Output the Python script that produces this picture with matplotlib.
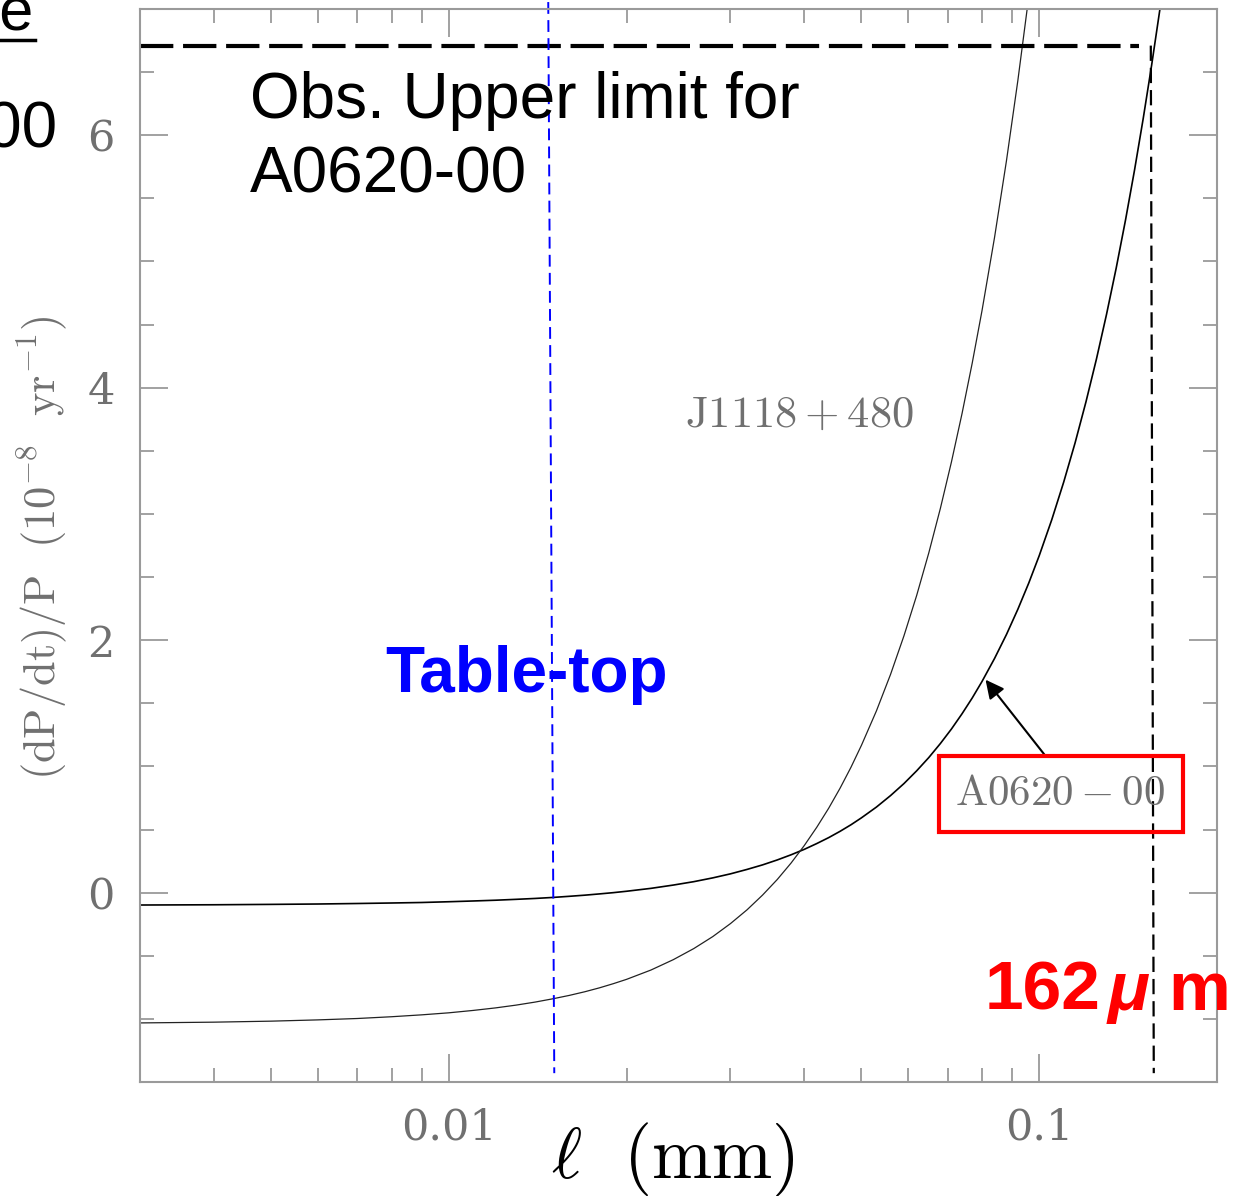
import numpy as np
import matplotlib
matplotlib.use('Agg')
import matplotlib.pyplot as plt
from matplotlib.ticker import MultipleLocator, FixedLocator, FixedFormatter, LogLocator, NullFormatter
from matplotlib.patches import Rectangle
from matplotlib.lines import Line2D

plt.rcParams['mathtext.fontset'] = 'cm'
plt.rcParams['lines.scale_dashes'] = False

# === DATA ===
ell_a = [0.003, 0.004, 0.005, 0.006, 0.007, 0.008, 0.009, 0.010, 0.011, 0.012,
         0.013, 0.014, 0.015, 0.016, 0.017, 0.018, 0.019, 0.020, 0.022, 0.024,
         0.026, 0.028, 0.030, 0.032, 0.034, 0.036, 0.038, 0.040, 0.042, 0.044,
         0.046, 0.048, 0.050, 0.053, 0.056, 0.059, 0.062, 0.065, 0.068, 0.071,
         0.074, 0.077, 0.080, 0.084, 0.088, 0.092, 0.096, 0.100, 0.105, 0.110,
         0.115, 0.120, 0.125, 0.130, 0.135, 0.140, 0.145, 0.150, 0.155, 0.160,
         0.165, 0.170]
a0620 = [-0.098, -0.096, -0.093, -0.090, -0.086, -0.082, -0.078, -0.072, -0.066, -0.060,
         -0.053, -0.046, -0.038, -0.029, -0.020, -0.010, 0.000, 0.011, 0.034, 0.060,
         0.087, 0.117, 0.149, 0.184, 0.220, 0.259, 0.300, 0.343, 0.389, 0.436,
         0.486, 0.538, 0.593, 0.678, 0.769, 0.864, 0.965, 1.070, 1.181, 1.296,
         1.417, 1.542, 1.673, 1.855, 2.045, 2.245, 2.453, 2.670, 2.954, 3.252,
         3.563, 3.889, 4.228, 4.581, 4.948, 5.329, 5.724, 6.133, 6.555, 6.991,
         7.441, 7.905]

ell_j = ell_a[:48]
j1118 = [-1.032, -1.026, -1.018, -1.008, -0.997, -0.983, -0.968, -0.952, -0.933, -0.913,
         -0.891, -0.867, -0.841, -0.814, -0.785, -0.754, -0.721, -0.687, -0.613, -0.531,
         -0.443, -0.348, -0.245, -0.136, -0.019, 0.104, 0.235, 0.373, 0.518, 0.669,
         0.828, 0.994, 1.168, 1.440, 1.729, 2.034, 2.354, 2.691, 3.043, 3.411,
         3.795, 4.195, 4.611, 5.190, 5.798, 6.434, 7.098, 7.790]

upper_limit = 6.71              # observed upper limit for A0620-00
tabletop_l = [0.01474, 0.01509] # table-top reach (top, bottom of the drawn line)
limit_l = [0.1545, 0.1563]      # 162 micron line (top, bottom)
xtick_vals = [0.01, 0.1]
xtick_text = ['0.01', '0.1']
ytick_vals = [0, 2, 4, 6]

W, H = 1240, 1196
fig = plt.figure(figsize=(W / 100, H / 100), dpi=100)
ax = fig.add_axes([140 / W, 1 - 1082 / H, 1077 / W, 1073 / H])

frame_grey = '#9a9a9a'
text_grey = '#707070'

ax.plot(ell_a, a0620, color='black', lw=1.2)
ax.plot(ell_j, j1118, color='#222222', lw=0.9)

ax.set_xscale('log')
ax.set_xlim(0.003, 0.2)
ax.set_ylim(-1.5, 7.0)

# reference lines
ax.plot([0.003, 0.1474], [upper_limit, upper_limit], color='black', lw=3.0,
        dashes=(24, 7), clip_on=False)
ax.plot(limit_l, [upper_limit, -1.43], color='black', lw=1.6,
        dashes=(11, 5), clip_on=False)
ax.plot(tabletop_l, [7.055, -1.43], color='blue', lw=1.4,
        dashes=(8.5, 4.5), clip_on=False)

# ticks
ax.xaxis.set_major_locator(FixedLocator(xtick_vals))
ax.xaxis.set_major_formatter(FixedFormatter(xtick_text))
ax.xaxis.set_minor_locator(LogLocator(base=10, subs=np.arange(2, 10)))
ax.xaxis.set_minor_formatter(NullFormatter())
ax.yaxis.set_major_locator(FixedLocator(ytick_vals))
ax.yaxis.set_minor_locator(MultipleLocator(0.5))

ax.tick_params(which='both', direction='in', top=True, right=True,
               color=frame_grey, width=1.3)
ax.tick_params(which='major', length=20, pad=18, labelsize=31,
               labelcolor=text_grey)
ax.tick_params(which='minor', length=10)
for lab in ax.get_xticklabels() + ax.get_yticklabels():
    lab.set_fontfamily('DejaVu Serif')
    lab.set_fontweight('light')
for s in ax.spines.values():
    s.set_color(frame_grey)
    s.set_linewidth(1.5)

# axis labels
fig.text(673 / W, 1 - 1178 / H, r'$\ell\ \ (\mathrm{mm})$', fontsize=52,
         ha='center', va='baseline', color='black')
fig.text(42 / W, 1 - 548 / H,
         r'$\mathrm{(dP/dt)/P\ \ (10^{-8}\ \ yr^{-1})}$', fontsize=32,
         rotation=90, ha='center', va='center', color=text_grey)

# annotations
sans = 'Liberation Sans'
fig.text(250 / W, 1 - 118 / H, 'Obs. Upper limit for', fontsize=46,
         family=sans, va='baseline')
fig.text(250 / W, 1 - 193 / H, 'A0620-00', fontsize=46, family=sans,
         va='baseline')
fig.text(385 / W, 1 - 692 / H, 'Table-top', fontsize=46, family=sans,
         fontweight='bold', color='blue', va='baseline')
fig.text(985 / W, 1 - 1010 / H, '162', fontsize=50, family=sans,
         fontweight='bold', color='red', va='baseline')
fig.text(1108 / W, 1 - 1010 / H, '\u03bc', fontsize=50, family=sans,
         fontweight='bold', style='italic', color='red', va='baseline')
fig.text(1168 / W, 1 - 1010 / H, 'm', fontsize=50, family=sans,
         fontweight='bold', color='red', va='baseline')

fig.text(685 / W, 1 - 427 / H, r'$\mathrm{J1118+480}$', fontsize=32,
         color=text_grey, va='baseline')
fig.text(1060 / W, 1 - 805 / H, r'$\mathrm{A0620-00}$', fontsize=31,
         color=text_grey, ha='center', va='baseline')
fig.add_artist(Rectangle((939 / W, 1 - 832 / H), 244 / W, 76 / H,
                         transform=fig.transFigure, fill=False,
                         ec='red', lw=3))
ax.annotate('', xy=(0.0811, 1.687), xytext=(0.1027, 1.077),
            arrowprops=dict(arrowstyle='-|>', color='black', lw=1.5,
                            mutation_scale=28, shrinkA=0, shrinkB=0))

# cut-off text from the neighbouring slide panel
fig.text(58 / W, 1 - 148 / H, 'A0620-00', fontsize=46, family=sans,
         ha='right', va='baseline')
fig.text(34 / W, 1 - 30 / H, 'Table', fontsize=44, family=sans,
         ha='right', va='baseline')
fig.add_artist(Line2D([0, 35 / W], [1 - 40 / H, 1 - 40 / H],
                      transform=fig.transFigure, color='black', lw=2.5))

fig.savefig('out.png', dpi=100)
